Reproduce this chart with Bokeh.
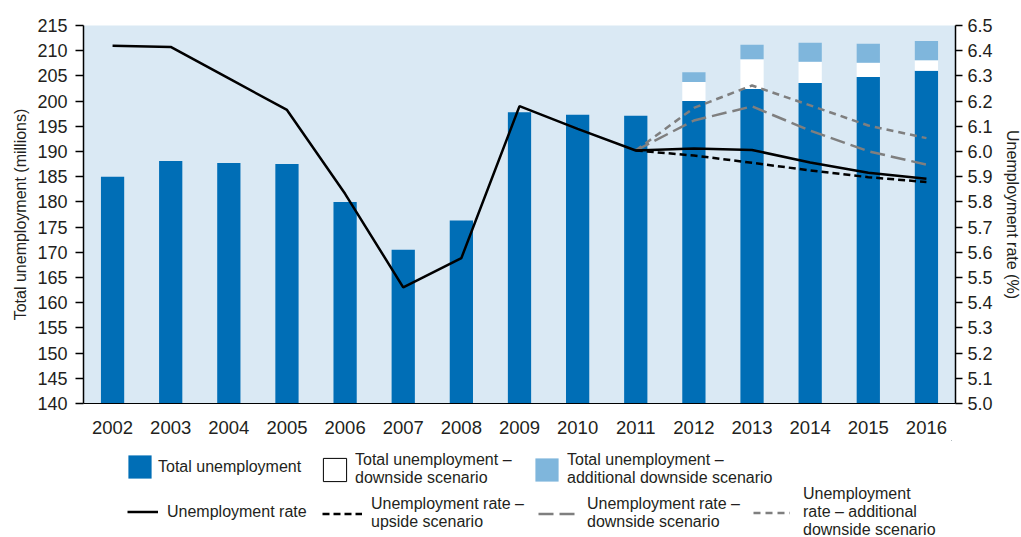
from bokeh.plotting import figure
from bokeh.models import (Range1d, LinearAxis, FixedTicker, PrintfTickFormatter,
                          Legend, LegendItem, ColumnDataSource)
from bokeh.layouts import column
from bokeh.embed import file_html
from bokeh.resources import INLINE

years = [str(y) for y in range(2002, 2017)]
total = [185.0, 188.1, 187.7, 187.5, 180.0, 170.5, 176.3, 197.8, 197.3, 197.1,
         200.0, 202.4, 203.6, 204.8, 206.0]
nan = float("nan")
downside_total = [nan] * 10 + [203.8, 208.3, 207.8, 207.6, 208.1]
additional_total = [nan] * 10 + [205.7, 211.2, 211.6, 211.4, 211.9]

rate = [6.42, 6.415, 6.29, 6.165, 5.832, 5.461, 5.577, 6.18, 6.09, 6.004,
        6.012, 6.006, 5.956, 5.916, 5.892]
rate_years_scen = ["2011", "2012", "2013", "2014", "2015", "2016"]
rate_upside = [6.004, 5.984, 5.955, 5.925, 5.898, 5.879]
rate_downside = [6.004, 6.123, 6.179, 6.083, 6.001, 5.948]
rate_additional = [6.004, 6.173, 6.262, 6.183, 6.103, 6.053]

left_ticks = list(range(140, 216, 5))
right_ticks = [round(5.0 + 0.1 * i, 1) for i in range(16)]

BLUE = "#006EB6"
LIGHT = "#7FB6DC"
GRAY = "#7F7F7F"
BG = "#DAE9F4"
TXT = "#231F20"
FONT = "Liberation Sans"

W = 1019
FL = 83  # frame left (page px)
p = figure(x_range=years, y_range=Range1d(140, 215),
           frame_width=872, frame_height=378,
           output_backend="svg", toolbar_location=None,
           min_border_left=FL, min_border_right=0, min_border_top=25,
           min_border_bottom=37)
p.extra_y_ranges = {"rate": Range1d(5.0, 6.5)}
p.background_fill_color = BG
p.outline_line_color = None
p.xgrid.grid_line_color = None
p.ygrid.grid_line_color = None

src = ColumnDataSource(dict(x=years, total=total, down=downside_total,
                            add=additional_total))
p.vbar(x="x", top="total", bottom=0, width=0.4, source=src,
       fill_color=BLUE, line_color=None)
p.vbar(x="x", bottom="total", top="down", width=0.4, source=src,
       fill_color="white", line_color=None)
p.vbar(x="x", bottom="down", top="add", width=0.4, source=src,
       fill_color=LIGHT, line_color=None)

p.line(rate_years_scen, rate_additional, y_range_name="rate",
       line_color=GRAY, line_width=2.5, line_dash="7 5")
p.line(rate_years_scen, rate_downside, y_range_name="rate",
       line_color=GRAY, line_width=2.5, line_dash="15 6")
p.line(rate_years_scen, rate_upside, y_range_name="rate",
       line_color="black", line_width=2.5, line_dash="7 4")
p.line(years, rate, y_range_name="rate", line_color="black", line_width=2.5)

# axes
p.yaxis.ticker = FixedTicker(ticks=left_ticks)
p.yaxis.axis_label = "Total unemployment (millions)"
ax_r = LinearAxis(y_range_name="rate", ticker=FixedTicker(ticks=right_ticks),
                  formatter=PrintfTickFormatter(format="%.1f"),
                  axis_label="Unemployment rate (%)")
p.add_layout(ax_r, "right")

for ax in [p.yaxis[0], ax_r]:
    ax.major_label_text_font = FONT
    ax.major_label_text_font_size = "18px"
    ax.major_label_text_color = TXT
    ax.axis_label_text_font = FONT
    ax.axis_label_text_font_size = "16px"
    ax.axis_label_text_font_style = "normal"
    ax.axis_label_text_color = TXT
    ax.axis_line_color = "black"
    ax.axis_line_width = 1.5
    ax.major_tick_line_color = "black"
    ax.major_tick_line_width = 1.5
    ax.major_tick_out = 8
    ax.major_tick_in = 0
    ax.minor_tick_line_color = None
p.yaxis[0].major_label_standoff = 8
p.yaxis[0].axis_label_standoff = 5
ax_r.major_tick_out = 7
ax_r.major_label_standoff = 5
ax_r.axis_label_standoff = 8

xa = p.xaxis[0]
xa.major_label_text_font = FONT
xa.major_label_text_font_size = "18.5px"
xa.major_label_text_color = TXT
xa.major_tick_line_color = None
xa.axis_line_color = "black"
xa.axis_line_width = 1
xa.major_label_standoff = 11

# legend figure
LH = 97
TOP = 440  # page y of legend figure top
q = figure(width=W, height=LH, x_range=Range1d(0, 1), y_range=Range1d(0, 1),
           output_backend="svg", toolbar_location=None,
           min_border_left=FL, min_border_right=0, min_border_top=0,
           min_border_bottom=0, outline_line_color=None)
q.axis.visible = False
q.grid.visible = False
# legend proxies (placed outside the visible range; they only feed the legend)
lg_blue = q.vbar(x=[5], top=[5], bottom=[4], width=0.4, fill_color=BLUE, line_color=None)
lg_white = q.vbar(x=[5], top=[5], bottom=[4], width=0.4, fill_color="white",
                  line_color="black", line_width=1)
lg_light = q.vbar(x=[5], top=[5], bottom=[4], width=0.4, fill_color=LIGHT, line_color=None)
lg_rate = q.line(x=[5, 6], y=[5, 5], line_color="black", line_width=2.5)
lg_up = q.line(x=[5, 6], y=[5, 5], line_color="black", line_width=2.5, line_dash="7 4")
lg_down = q.line(x=[5, 6], y=[5, 5], line_color=GRAY, line_width=2.5, line_dash="15 6")
lg_add = q.line(x=[5, 6], y=[5, 5], line_color=GRAY, line_width=2.5, line_dash="7 5")


def add_legend(label, rend, x, bottom_y, gw, gh, standoff, lh=1.2):
    lg = Legend(items=[LegendItem(label=label, renderers=[rend])],
                location=(x - FL, TOP + LH - bottom_y), padding=0, margin=0,
                spacing=0, border_line_color=None, background_fill_alpha=0,
                glyph_width=gw, glyph_height=gh, label_standoff=standoff,
                label_text_font=FONT, label_text_font_size="16px",
                label_text_color=TXT, label_height=18,
                label_text_line_height=lh)
    q.add_layout(lg, "center")


SQ = 29  # area swatch box (drawn with a 10% inset -> ~23px square)
add_legend("Total unemployment", lg_blue, 125, 481, SQ, SQ, 4)
add_legend("Total unemployment \u2013\ndownside scenario", lg_white, 320, 487, SQ, SQ, 6)
add_legend("Total unemployment \u2013\nadditional downside scenario", lg_light, 532, 487, SQ, SQ, 6)
add_legend("Unemployment rate", lg_rate, 127, 521, 31, 19, 9)
add_legend("Unemployment rate \u2013\nupside scenario", lg_up, 322, 531, 40, 19, 9)
add_legend("Unemployment rate \u2013\ndownside scenario", lg_down, 538, 531, 40, 19, 9)
add_legend("Unemployment\nrate \u2013 additional\ndownside scenario", lg_add, 753, 539, 37, 19, 13, 1.1)

open("out.html", "w").write(file_html(column(p, q), INLINE))
